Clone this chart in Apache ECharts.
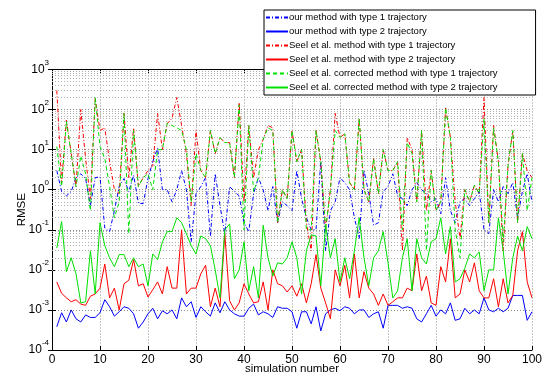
<!DOCTYPE html>
<html>
<head>
<meta charset="utf-8">
<script src="https://cdn.jsdelivr.net/npm/echarts@6/dist/echarts.min.js"></script>
<style>
  html, body { margin: 0; padding: 0; background: #fff; }
  #chart { width: 560px; height: 374px; }
</style>
</head>
<body>
<div id="chart"></div>
<script>
// RMSE per simulation run (runs 1..100)
const ourType1 = [3,0.9,0.7,0.9,2,2.5,1.9,0.4,2,2.1,
  0.11,0.09,0.3,1.2,1.9,0.9,2.3,0.46,0.45,1.9,
  5,11,1,1,0.5,1,3,1,0.05,0.8,
  1.2,2,0.07,2.5,0.4,0.08,1.2,0.9,0.7,0.15,
  0.09,0.8,2,1,0.3,1.2,0.15,0.5,0.4,0.3,
  3,0.6,0.2,0.1,0.1,5,0.03,0.3,0.5,2,
  1.5,1,0.2,0.06,3,0.8,0.13,0.15,0.9,1.2,
  2.5,0.7,0.6,0.4,1,1.5,1,0.8,0.5,0.6,
  0.25,2,0.3,0.15,0.5,0.6,0.4,0.6,0.9,0.1,
  0.08,1,0.5,1.2,0.8,1.5,0.2,0.9,2.5,0.5];
const ourType2 = [0.00038,0.00085,0.0005,0.001,0.0006,0.0005,0.00075,0.00065,0.00065,0.00085,
  0.0018,0.0012,0.0007,0.0009,0.0012,0.0011,0.0008,0.00035,0.0005,0.0008,
  0.0011,0.0006,0.00095,0.0008,0.001,0.0006,0.002,0.0012,0.0016,0.00065,
  0.0012,0.0009,0.0007,0.0015,0.00085,0.0016,0.001,0.0008,0.0007,0.0007,
  0.0011,0.0014,0.00075,0.0009,0.0008,0.00065,0.0012,0.0011,0.0011,0.0009,
  0.00035,0.0009,0.0009,0.00045,0.0012,0.0003,0.0008,0.001,0.0011,0.00095,
  0.0012,0.0011,0.0008,0.001,0.001,0.00065,0.0008,0.0009,0.00035,0.0013,
  0.0013,0.0013,0.0011,0.0012,0.0011,0.0006,0.0005,0.0008,0.0013,0.0007,
  0.001,0.0008,0.0015,0.00055,0.0006,0.0011,0.0008,0.001,0.0008,0.002,
  0.001,0.0009,0.0011,0.0009,0.0011,0.0023,0.0023,0.0023,0.00055,0.0009];
const seelType1 = [300,1.5,55,8,1.2,100,6,0.6,190,30,
  35,5,1,0.8,80,2,35,1.2,2,3,
  4,80,10,45,60,200,40,8,0.4,30,
  3,2,30,8,20,15,15,2,150,0.5,
  40,2,10,18,40,35,0.15,1,0.6,30,
  5,10,0.15,0.03,30,5,0.1,1,80,20,
  25,1.5,1,60,1,0.5,6,0.8,10,3,
  3,5,0.03,20,10,0.5,30,0.3,3,0.3,
  0.5,110,20,0.5,0.06,1,0.5,1.3,0.8,200,
  0.15,40,5,0.03,4,30,0.15,8,3,2];
const seelType2 = [0.005,0.0026,0.002,0.0016,0.0018,0.0014,0.0013,0.0022,0.0025,0.0035,
  0.014,0.002,0.0035,0.001,0.0045,0.0055,0.018,0.004,0.0045,0.0021,
  0.0032,0.005,0.0025,0.012,0.0035,0.0035,0.1,0.0025,0.0035,0.0035,
  0.008,0.013,0.0012,0.0035,0.0012,0.08,0.0017,0.001,0.0015,0.0045,
  0.0025,0.0015,0.0016,0.005,0.001,0.01,0.0045,0.004,0.0028,0.004,
  0.0022,0.0045,0.0015,0.0045,0.024,0.0035,0.0015,0.0006,0.01,0.004,
  0.013,0.002,0.025,0.002,0.009,0.0035,0.0025,0.0013,0.0025,0.0013,
  0.0016,0.002,0.002,0.0035,0.003,0.025,0.003,0.007,0.0015,0.0013,
  0.012,0.005,0.06,0.002,0.0025,0.01,0.005,0.015,0.003,0.002,
  0.002,0.006,0.0012,0.006,0.0015,0.0023,0.03,0.09,0.005,0.002];
const corrType1 = [12,1.2,50,8,1.2,7,2.5,0.3,200,12,
  6,1.2,0.2,0.5,80,0.08,30,1.2,2,2.5,
  1,10,10,45,40,35,30,10,0.5,8,
  3,2,30,8,20,15,15,2,130,0.1,
  40,0.9,2,18,35,30,0.15,1,0.6,30,
  5,10,0.1,0.1,30,5,0.1,1,30,20,
  25,1.5,1,60,1,0.5,6,0.8,10,3,
  3,5,0.1,15,8,0.5,30,0.03,3,0.3,
  0.5,110,20,0.1,0.02,1,0.5,1.3,0.8,60,
  0.15,35,5,0.05,4,30,0.15,8,0.3,2];
const corrType2 = [0.035,0.16,0.009,0.02,0.008,0.0015,0.0016,0.03,0.0025,0.15,
  0.04,0.02,0.012,0.024,0.024,0.012,0.02,0.012,0.014,0.004,
  0.025,0.018,0.05,0.09,0.09,0.2,0.15,0.08,0.04,0.025,
  0.07,0.06,0.04,0.01,0.002,0.1,0.14,0.006,0.01,0.05,
  0.003,0.012,0.002,0.13,0.02,0.007,0.015,0.014,0.02,0.05,
  0.02,0.0025,0.03,0.075,0.07,0.004,0.13,0.02,0.06,0.005,
  0.02,0.006,0.03,0.2,0.02,0.004,0.02,0.03,0.09,0.015,
  0.002,0.003,0.02,0.06,0.003,0.06,0.02,0.014,0.05,0.06,
  0.2,0.025,0.12,0.005,0.006,0.011,0.025,0.02,0.028,0.003,
  0.01,0.01,0.2,0.03,0.0025,0.02,0.07,0.03,0.12,0.06];

const seriesNames = [
  'our method with type 1 trajectory',
  'our method with type 2 trajectory',
  'Seel et al. method with type 1 trajectory',
  'Seel et al. method with type 2 trajectory',
  'Seel et al. corrected method with type 1 trajectory',
  'Seel et al. corrected method with type 2 trajectory'
];
const seriesValues = [ourType1, ourType2, seelType1, seelType2, corrType1, corrType2];
const seriesColors = ['#0000ff', '#0000ff', '#ff0000', '#ff0000', '#00e000', '#00e000'];
const dashDot = [4, 2, 1, 2];
const seriesDash = [dashDot, 'solid', dashDot, 'solid', [4, 3], 'solid'];

// log minor gridlines 2..9 x 10^e
const decades = [-4, -3, -2, -1, 0, 1, 2];
const minorSteps = [2, 3, 4, 5, 6, 7, 8, 9];
const minorGrid = [];
decades.forEach(e => minorSteps.forEach(k => minorGrid.push({ yAxis: k * Math.pow(10, e) })));

const font = 'Liberation Sans, Arial, Helvetica, sans-serif';
const gridLine = { show: true, lineStyle: { color: '#8c8c8c', type: [1, 2], width: 1 } };

const chart = echarts.init(document.getElementById('chart'));

const series = [{
  name: 'grid',
  type: 'line',
  data: [],
  silent: true,
  z: 1,
  markLine: {
    silent: true,
    z: 1,
    symbol: ['none', 'none'],
    label: { show: false },
    animation: false,
    lineStyle: { color: '#b0b0b0', type: [1, 2], width: 1 },
    emphasis: { disabled: true },
    data: minorGrid
  }
}];
seriesValues.forEach((vals, i) => {
  series.push({
    name: seriesNames[i],
    type: 'line',
    data: vals.map((v, j) => [j + 1, v]),
    showSymbol: false,
    symbol: 'none',
    color: seriesColors[i],
    lineStyle: { color: seriesColors[i], width: 1, type: seriesDash[i] },
    emphasis: { disabled: true }
  });
});

const option = {
  animation: false,
  backgroundColor: '#fff',
  textStyle: { fontFamily: font },
  grid: { left: 52, right: 28, top: 69.5, bottom: 24, containLabel: false, outerBoundsMode: 'none' },
  legend: {
    data: seriesNames,
    orient: 'vertical',
    left: 264,
    top: 10,
    z: 10,
    padding: [2, 38, 2, 1],
    itemWidth: 22,
    itemHeight: 11,
    itemGap: 3,
    itemStyle: { opacity: 0 },
    backgroundColor: '#fff',
    borderColor: '#000',
    borderWidth: 1,
    borderRadius: 0,
    textStyle: { fontFamily: font, fontSize: 9.5, color: '#000', lineHeight: 11, padding: [0, 0, 0, -4] },
    selectedMode: false
  },
  xAxis: [{
    type: 'value',
    min: 0, max: 100, interval: 10,
    name: 'simulation number',
    nameLocation: 'middle',
    nameGap: 13,
    nameMoveOverlap: false,
    nameTextStyle: { fontFamily: font, fontSize: 11.5, color: '#000' },
    axisLine: { show: true, lineStyle: { color: '#000', width: 1 } },
    axisTick: { show: true, inside: true, length: 4, lineStyle: { color: '#000' } },
    axisLabel: { fontFamily: font, fontSize: 12, color: '#000', margin: 4 },
    splitLine: gridLine
  }, {
    type: 'value', position: 'top',
    min: 0, max: 100, interval: 10,
    axisLine: { show: true, lineStyle: { color: '#000', width: 1 } },
    axisTick: { show: true, inside: true, length: 4, lineStyle: { color: '#000' } },
    axisLabel: { show: false },
    splitLine: { show: false }
  }],
  yAxis: [{
    type: 'log', logBase: 10,
    min: 1e-4, max: 1e3,
    name: 'RMSE',
    nameLocation: 'middle',
    nameGap: 24,
    nameMoveOverlap: false,
    nameTextStyle: { fontFamily: font, fontSize: 11.5, color: '#000' },
    axisLine: { show: true, lineStyle: { color: '#000', width: 1 } },
    axisTick: { show: true, inside: true, length: 4, lineStyle: { color: '#000' } },
    axisLabel: {
      margin: 3,
      formatter: v => '{b|10}{e|' + Math.round(Math.log10(v)) + '}',
      rich: {
        b: { fontFamily: font, fontSize: 12, color: '#000', lineHeight: 22 },
        e: { fontFamily: font, fontSize: 8, color: '#000', verticalAlign: 'top' }
      }
    },
    splitLine: gridLine
  }, {
    type: 'log', logBase: 10, position: 'right',
    min: 1e-4, max: 1e3,
    axisLine: { show: true, lineStyle: { color: '#000', width: 1 } },
    axisTick: { show: true, inside: true, length: 4, lineStyle: { color: '#000' } },
    axisLabel: { show: false },
    splitLine: { show: false }
  }],
  series: series
};

chart.setOption(option);
</script>
</body>
</html>
